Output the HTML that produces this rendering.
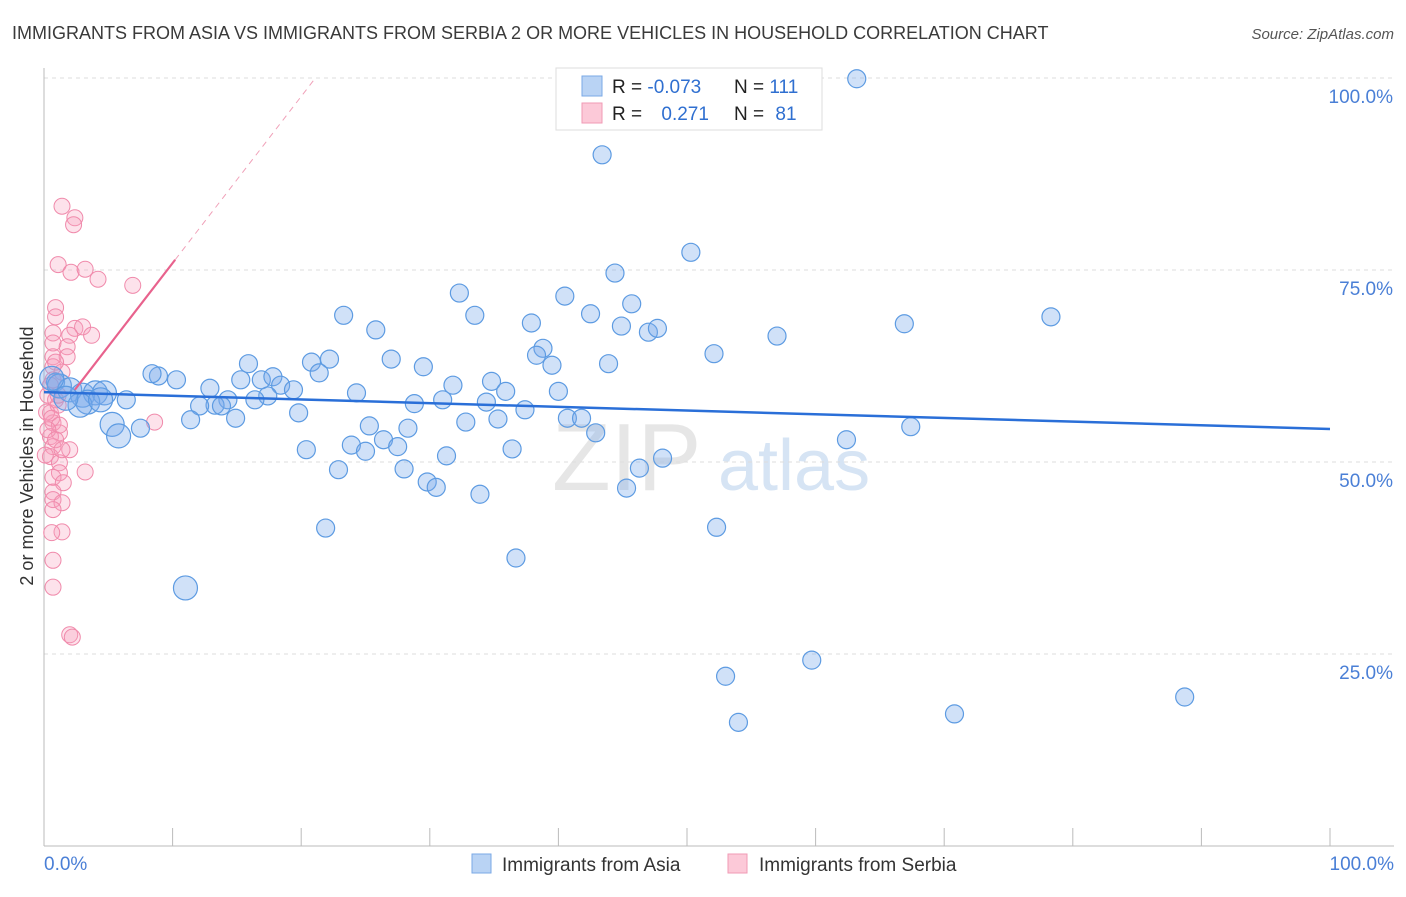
<!DOCTYPE html>
<html><head><meta charset="utf-8"><style>
body{margin:0;background:#fff;font-family:"Liberation Sans",sans-serif;}
svg text{font-family:"Liberation Sans",sans-serif;}
</style></head><body>
<svg id="chart" width="1406" height="892" xmlns="http://www.w3.org/2000/svg">
<text x="12" y="39" font-size="18" fill="#3a3a3a">IMMIGRANTS FROM ASIA VS IMMIGRANTS FROM SERBIA 2 OR MORE VEHICLES IN HOUSEHOLD CORRELATION CHART</text>
<text x="1394" y="39" font-size="15" fill="#555" text-anchor="end" font-style="italic">Source: ZipAtlas.com</text>
<g>
<text x="552" y="490" font-size="96" fill="#e6e6e6" font-family="Liberation Serif">ZIP</text>
<text x="718" y="490" font-size="72" fill="#d6e4f4">atlas</text>
</g>
<g id="grid"></g>
<g id="axes"></g>
<g id="pts"></g>
<g id="trends"></g>
<text transform="translate(33,456) rotate(-90)" font-size="18" fill="#333" text-anchor="middle">2 or more Vehicles in Household</text>
<g>
<rect x="556" y="68" width="266" height="62" fill="#fff" stroke="#ddd"/>
<rect x="582" y="76" width="20" height="20" fill="#b9d3f4" stroke="#7aa8e6"/>
<rect x="582" y="103" width="20" height="20" fill="#fcc9d8" stroke="#f09ab5"/>
<text x="612" y="93" font-size="19" fill="#222">R = <tspan fill="#2f6fd0">-0.073</tspan></text>
<text x="734" y="93" font-size="19" fill="#222">N = <tspan fill="#2f6fd0">111</tspan></text>
<text x="612" y="120" font-size="19" fill="#222">R = <tspan fill="#2f6fd0" dx="14">0.271</tspan></text>
<text x="734" y="120" font-size="19" fill="#222">N = <tspan fill="#2f6fd0" dx="6">81</tspan></text>
</g>
<g>
<rect x="472" y="854" width="19" height="19" fill="#b9d3f4" stroke="#7aa8e6"/>
<text x="502" y="871" font-size="19" fill="#333">Immigrants from Asia</text>
<rect x="728" y="854" width="19" height="19" fill="#fcc9d8" stroke="#f09ab5"/>
<text x="759" y="871" font-size="19" fill="#333">Immigrants from Serbia</text>
</g>
</svg>
<script>
const yTicks=[25,50,75,100];
const yTickLabels=["25.0%","50.0%","75.0%","100.0%"];
const xTickLabels=["0.0%","100.0%"];
const blueX=[63.2,53.3,43.4,50.3,44.4,32.3,40.5,45.7,23.3,33.5,42.5,37.9,44.9,25.8,47.0,47.7,66.9,78.3,57.0,38.8,38.3,52.1,43.9,39.5,27.0,29.5,22.2,20.8,21.4,15.9,8.9,8.4,10.3,15.3,16.9,17.8,18.4,19.4,12.9,34.8,31.8,24.3,35.9,40.0,31.0,34.4,28.8,17.4,14.3,16.4,13.3,12.1,13.8,6.4,14.9,11.4,19.8,37.4,40.7,41.8,32.8,35.3,25.3,28.3,7.5,5.3,5.8,23.9,26.4,27.5,25.0,42.9,20.4,36.4,31.3,48.1,62.4,67.4,22.9,28.0,46.3,29.8,30.5,45.3,33.9,21.9,52.3,36.7,11.0,59.7,53.0,88.7,70.8,54.0,0.9,1.2,2.0,3.0,4.0,4.7,3.4,2.8,4.4,1.7,0.6];
const blueY=[99.9,99.9,90.0,77.3,74.6,72.0,71.6,70.6,69.1,69.1,69.3,68.1,67.7,67.2,66.9,67.4,68.0,68.9,66.4,64.8,63.9,64.1,62.8,62.6,63.4,62.4,63.4,63.0,61.6,62.8,61.2,61.5,60.7,60.7,60.7,61.1,60.0,59.4,59.6,60.5,60.0,59.0,59.2,59.2,58.1,57.8,57.6,58.6,58.1,58.1,57.4,57.3,57.3,58.1,55.7,55.5,56.4,56.8,55.7,55.7,55.2,55.6,54.7,54.4,54.4,54.9,53.4,52.2,52.9,52.0,51.4,53.8,51.6,51.7,50.8,50.5,52.9,54.6,49.0,49.1,49.2,47.4,46.7,46.6,45.8,41.4,41.5,37.5,33.6,24.2,22.1,19.4,17.2,16.1,60.4,59.9,59.4,58.7,59.0,59.0,57.8,57.4,58.1,58.3,60.9];
const blueBig=[65,66,88,95,96,97,98,99,100,101,102,103,104];
const pinkX=[1.4,2.4,2.3,1.1,2.1,3.2,4.2,6.9,0.9,0.9,2.4,3.0,3.7,2.0,0.7,0.7,1.8,0.7,1.8,0.7,0.7,8.6,0.5,0.7,1.2,0.5,2.0,0.7,0.5,1.2,3.2,1.2,0.7,1.5,0.7,0.7,1.4,0.7,1.4,0.6,0.7,0.7,2.0,2.2,0.3,0.9,1.1,0.2,0.6,1.2,0.3,0.9,1.4,0.1,1.1,0.5,1.4,0.9];
const pinkY=[83.3,81.8,80.9,75.7,74.7,75.1,73.8,73.0,70.1,68.9,67.4,67.6,66.5,66.5,66.8,65.5,65.0,63.7,63.7,62.4,60.7,55.2,56.4,55.1,53.8,53.3,51.6,52.0,50.7,49.9,48.7,48.6,48.0,47.3,46.1,45.1,44.7,43.8,40.9,40.8,37.2,33.7,27.5,27.2,58.7,58.1,57.4,56.5,55.7,54.8,54.2,52.9,51.6,50.9,58.7,60.0,61.7,63.0];
const blueTrend=[59.1,-0.048];
const pinkTrend=[54.2,2.17];
const X0=44,X1=1330,Y0=846,Y1=78;
const sx=v=>X0+(X1-X0)*v/100, sy=v=>Y0-(Y0-Y1)*v/100;
const NS="http://www.w3.org/2000/svg";
function mk(t,a,p){const e=document.createElementNS(NS,t);for(const k in a)e.setAttribute(k,a[k]);p.appendChild(e);return e;}
const grid=document.getElementById('grid'),axes=document.getElementById('axes'),pts=document.getElementById('pts'),tr=document.getElementById('trends');
yTicks.forEach((v,i)=>{
 const l=mk('line',{x1:X0,x2:1394,y1:sy(v),y2:sy(v),stroke:'#ddd','stroke-dasharray':'4,4'},grid);
 
 
 const t=mk('text',{x:1393,y:sy(v)+25,'font-size':19,fill:'#4a7fd6','text-anchor':'end'},axes);
 t.textContent=yTickLabels[i];
 
 
});
const ya=mk('line',{x1:X0,x2:X0,y1:68,y2:846,stroke:'#bbb'},axes);


const xa=mk('line',{x1:X0,x2:1394,y1:846,y2:846,stroke:'#bbb'},axes);


for(let i=0;i<=10;i++){const tk=mk('line',{x1:sx(i*10),x2:sx(i*10),y1:828,y2:846,stroke:'#bbb'},axes);
 
 }
[[0,'start',X0],[1,'end',1394]].forEach(([i,a,x])=>{const t=mk('text',{x:x,y:870,'font-size':19,fill:'#4a7fd6','text-anchor':a},axes);t.textContent=xTickLabels[i];
 
 });
pinkX.forEach((x,i)=>{const c=mk('circle',{cx:sx(x),cy:sy(pinkY[i]),r:8,fill:'rgba(247,160,190,0.3)',stroke:'#f08aab','stroke-width':1},pts);
 
 });
blueX.forEach((x,i)=>{const c=mk('circle',{cx:sx(x),cy:sy(blueY[i]),r:blueBig.includes(i)?12:9,fill:'rgba(120,170,235,0.35)',stroke:'#5d9be2','stroke-width':1.2},pts);
 
 });
const bl=mk('line',{x1:sx(0),y1:sy(blueTrend[0]),x2:sx(100),y2:sy(blueTrend[0]+blueTrend[1]*100),stroke:'#2a6fd8','stroke-width':2.5},tr);


const pa=2.4,pb=10.2,pc=(100-pinkTrend[0])/pinkTrend[1];
const pl=mk('line',{x1:sx(pa),y1:sy(pinkTrend[0]+pinkTrend[1]*pa),x2:sx(pb),y2:sy(pinkTrend[0]+pinkTrend[1]*pb),stroke:'#e8628d','stroke-width':2.2},tr);


const pd=mk('line',{x1:sx(pb),y1:sy(pinkTrend[0]+pinkTrend[1]*pb),x2:sx(pc),y2:sy(100),stroke:'#f0a0b8','stroke-width':1,'stroke-dasharray':'6,5'},tr);


</script>
</body></html>
